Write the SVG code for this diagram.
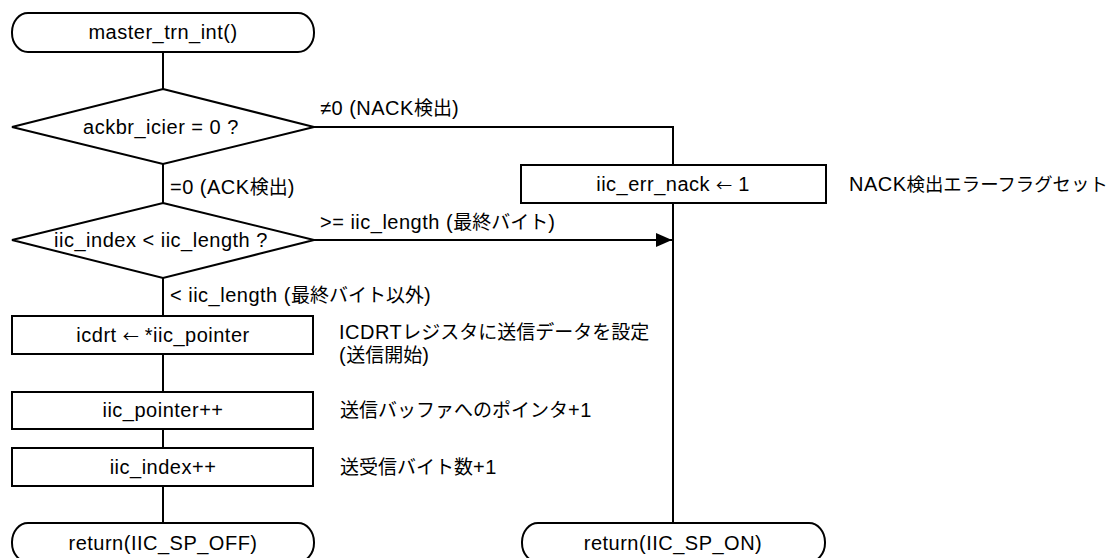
<svg xmlns="http://www.w3.org/2000/svg" width="1113" height="558" viewBox="0 0 1113 558">
<defs>
<style>
.s{fill:#fff;stroke:#000;stroke-width:2}
.c{fill:none;stroke:#000;stroke-width:2}
text{font-family:"Liberation Sans","Noto Sans CJK JP",Arial,sans-serif;font-size:20px;fill:#000;letter-spacing:0.5px}
.j{letter-spacing:0;font-size:19px}
.k{letter-spacing:0;font-size:18.4px}
.a{font-family:"Noto Sans CJK JP",sans-serif;letter-spacing:0;font-size:16px}
.m{text-anchor:middle}
</style>
<marker id="ah" markerWidth="16" markerHeight="14" viewBox="0 0 16 14" refX="16" refY="7" orient="auto" markerUnits="userSpaceOnUse">
<path d="M0,0 L16,7 L0,14 Z" fill="#000"/>
</marker>
</defs>
<rect width="1113" height="558" fill="#fff"/>
<g id="connectors">
<line class="c" x1="163" y1="52" x2="163" y2="89"/>
<line class="c" x1="163" y1="164" x2="163" y2="203"/>
<polyline class="c" points="314,127 673,127 673,165"/>
<line class="c" x1="673" y1="203" x2="673" y2="523"/>
<line class="c" x1="314" y1="240" x2="672" y2="240" marker-end="url(#ah)"/>
<line class="c" x1="163" y1="278" x2="163" y2="316"/>
<line class="c" x1="163" y1="354" x2="163" y2="392"/>
<line class="c" x1="163" y1="429" x2="163" y2="448"/>
<line class="c" x1="163" y1="486" x2="163" y2="523"/>
<text x="320" y="115">≠0 (NACK<tspan class="j">検出</tspan>)</text>
<text x="170" y="194">=0 (ACK<tspan class="j">検出</tspan>)</text>
<text x="320" y="229">&gt;= iic_length (<tspan class="j">最終バイト</tspan>)</text>
<text x="170" y="302">&lt; iic_length (<tspan class="j">最終バイト以外</tspan>)</text>
</g>
<g id="start">
<rect class="s" x="12" y="13" width="302" height="39" rx="16" ry="19"/>
<text class="m" x="163" y="39">master_trn_int()</text>
</g>
<g id="dec1">
<polygon class="s" points="163,89 314,127 163,164 12,127"/>
<text class="m" x="161" y="134">ackbr_icier = 0 ?</text>
</g>
<g id="dec2">
<polygon class="s" points="163,203 314,240 163,278 12,240"/>
<text class="m" x="161" y="247">iic_index &lt; iic_length ?</text>
</g>
<g id="errnack">
<rect class="s" x="521" y="165" width="305" height="38"/>
<text class="m" x="673" y="191">iic_err_nack <tspan class="a">←</tspan> 1</text>
<text x="849" y="191">NACK<tspan class="k">検出エラーフラグセット</tspan></text>
</g>
<g id="icdrt">
<rect class="s" x="12" y="316" width="301" height="38"/>
<text class="m" x="163" y="342">icdrt <tspan class="a">←</tspan> *iic_pointer</text>
<text x="339" y="339">ICDRT<tspan class="j">レジスタに送信データを設定</tspan></text>
<text x="339" y="362">(<tspan class="j">送信開始</tspan>)</text>
</g>
<g id="ptrinc">
<rect class="s" x="12" y="392" width="301" height="37"/>
<text class="m" x="163" y="417">iic_pointer++</text>
<text x="340" y="417"><tspan class="j">送信バッファへのポインタ</tspan>+1</text>
</g>
<g id="idxinc">
<rect class="s" x="12" y="448" width="301" height="38"/>
<text class="m" x="163" y="474">iic_index++</text>
<text x="340" y="474"><tspan class="j">送受信バイト数</tspan>+1</text>
</g>
<g id="retoff">
<rect class="s" x="12" y="523" width="302" height="39" rx="16" ry="19"/>
<text class="m" x="163" y="550">return(IIC_SP_OFF)</text>
</g>
<g id="reton">
<rect class="s" x="522" y="523" width="303" height="39" rx="16" ry="19"/>
<text class="m" x="673" y="550">return(IIC_SP_ON)</text>
</g>
</svg>
